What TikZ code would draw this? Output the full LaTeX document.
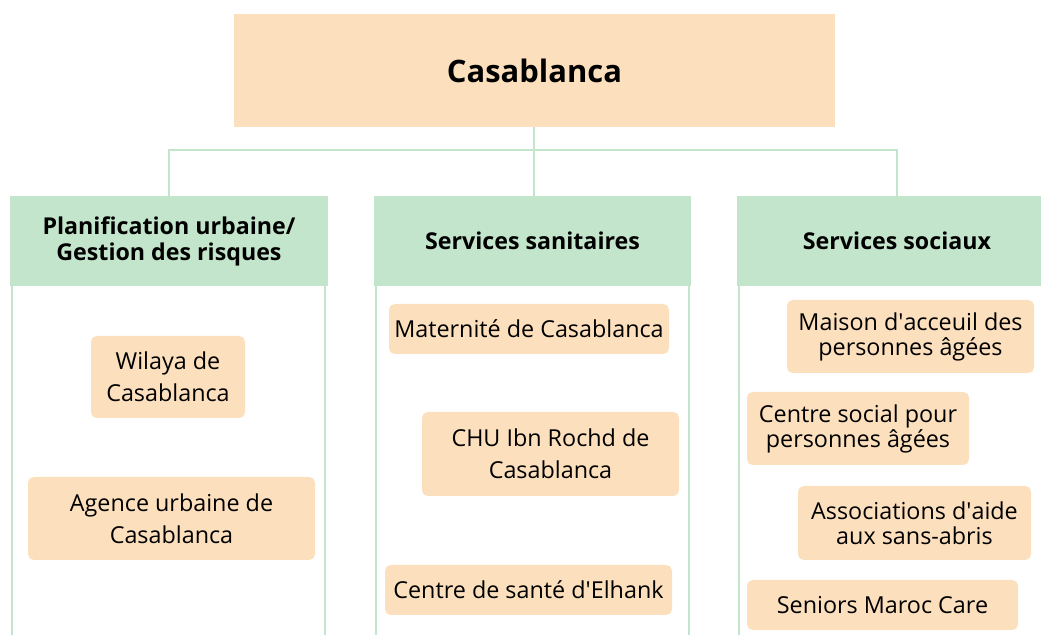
\documentclass[tikz,border=0pt]{standalone}
\usepackage{fontspec}
\setmainfont{Open Sans}
\usepackage{tikz}
\definecolor{peach}{HTML}{FCDFBD}
\definecolor{mint}{HTML}{C3E5CB}

\begin{document}
\begin{tikzpicture}[
    x=0.025cm, y=-0.025cm,
    top/.style  = {fill=peach,inner sep=0pt,font=\fontsize{22}{26}\selectfont\bfseries},
    hd/.style   = {fill=mint,inner sep=0pt,align=center,font=\fontsize{16.5}{18.5}\selectfont\bfseries},
    item/.style = {fill=peach,rounded corners=4pt,inner sep=0pt,align=center,font=\fontsize{16.6}{22.8}\selectfont},
    snug/.style = {font=\fontsize{16.6}{17.8}\selectfont},
    link/.style = {draw=mint,line width=1.4pt},
    col/.style  = {draw=mint,line width=1.4pt}
  ]
  \useasboundingbox (0,0) rectangle (1041,635);
  \clip (0,0) rectangle (1041,635);

  % columns
  \draw[col] (12,280) rectangle (325,660);
  \draw[col] (376,280) rectangle (689,660);
  \draw[col] (739,280) rectangle (1055,660);

  \node[top, minimum width=601*0.025cm, minimum height=113*0.025cm] (city) at (534.5,70.5) {Casablanca};

  \node[hd, minimum width=318*0.025cm, minimum height=90*0.025cm] (plan)   at (169,241)   {Planification urbaine/\\Gestion des risques};
  \node[hd, minimum width=317*0.025cm, minimum height=90*0.025cm] (sante)  at (532.5,241) {Services sanitaires};
  \node[hd, minimum width=320*0.025cm, minimum height=90*0.025cm] (social) at (897,241)   {Services sociaux};

  \coordinate (bus) at (534,150);
  \draw[link] (city.south -| bus) -- (bus);
  \draw[link] (plan.north) |- (bus) -| (social.north);
  \draw[link] (bus) -- (bus |- sante.north);

  % planification
  \node[item, minimum width=154*0.025cm, minimum height=82*0.025cm] (wilaya) at (168,377)   {Wilaya de\\Casablanca};
  \node[item, minimum width=287*0.025cm, minimum height=83*0.025cm] (agence) at (171.5,518.5) {Agence urbaine de\\Casablanca};

  % sanitaires
  \node[item, minimum width=280*0.025cm, minimum height=50*0.025cm] (mater)  at (529,329)   {Maternité de Casablanca};
  \node[item, minimum width=257*0.025cm, minimum height=84*0.025cm] (chu)    at (550.5,454) {CHU Ibn Rochd de\\Casablanca};
  \node[item, minimum width=287*0.025cm, minimum height=50*0.025cm] (elhank) at (528.5,590) {Centre de santé d\textquotesingle Elhank};

  % sociaux
  \node[item, snug, minimum width=247*0.025cm, minimum height=73*0.025cm] (maison)  at (910.5,336.5) {Maison d\textquotesingle acceuil des\\personnes âgées};
  \node[item, snug, minimum width=222*0.025cm, minimum height=73*0.025cm] (centre)  at (858,428.5)   {Centre social pour\\personnes âgées};
  \node[item, snug, minimum width=233*0.025cm, minimum height=74*0.025cm] (assoc)   at (914.5,523)   {Associations d\textquotesingle aide\\aux sans-abris};
  \node[item, minimum width=271*0.025cm, minimum height=50*0.025cm]       (seniors) at (882.5,605)   {Seniors Maroc Care};

\end{tikzpicture}
\end{document}
